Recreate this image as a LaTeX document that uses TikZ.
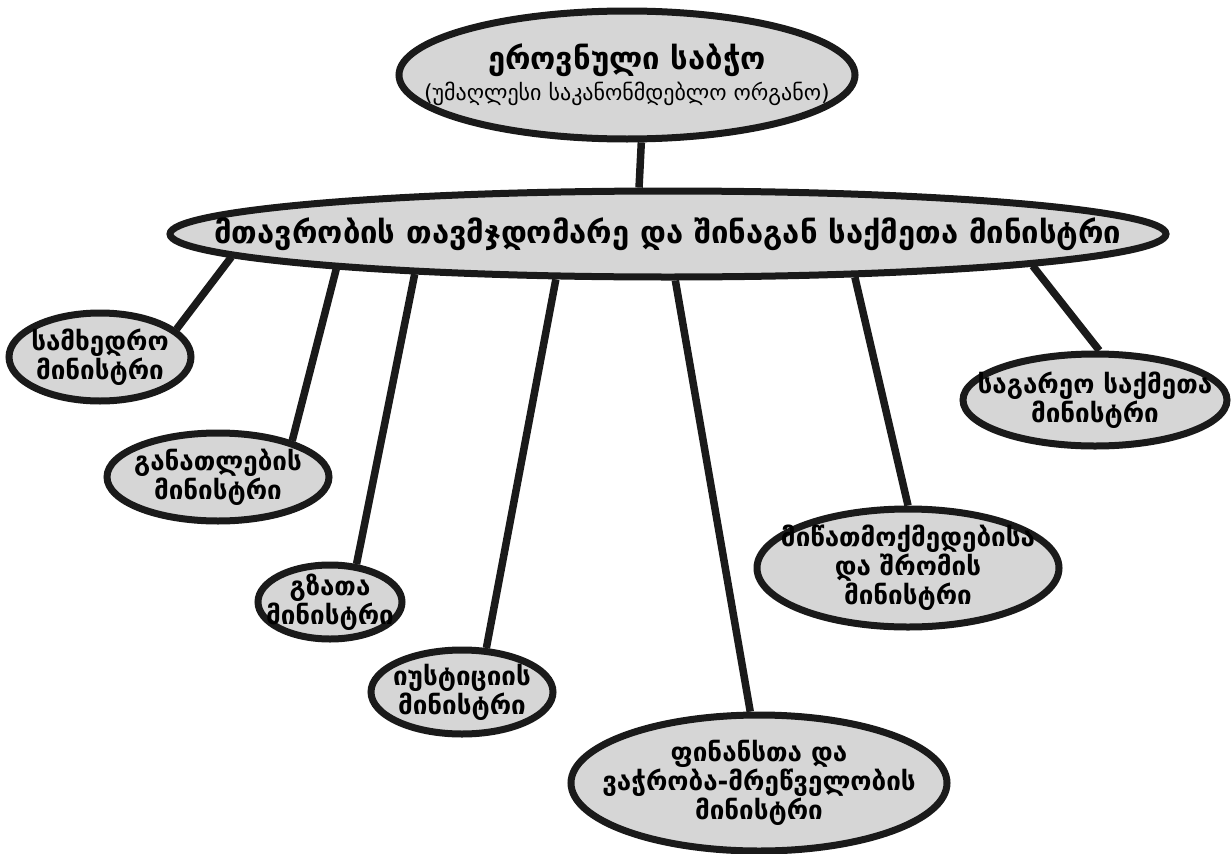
\documentclass[tikz,border=0pt]{standalone}
\usepackage{fontspec}
\setmainfont{DejaVu Sans}
\usepackage{xcolor}
\usepackage{tikz}
\usetikzlibrary{shapes.geometric}
\definecolor{ovalgray}{HTML}{D6D6D6}
\definecolor{inkblack}{HTML}{1A1A1A}

\begin{document}
\begin{tikzpicture}[x=1pt,y=-1pt,
	oval/.style={ellipse,draw=inkblack,line width=7pt,fill=ovalgray,inner xsep=-45pt,inner ysep=-8pt,
		align=center,font=\bfseries\fontsize{26}{29}\selectfont},
	link/.style={draw=inkblack,line width=7.5pt}]
	\useasboundingbox (0,0) rectangle (1232,854);
	\node[oval,minimum width=456,minimum height=128] (council) at (627,75)
		{{\fontsize{31}{34}\selectfont ეროვნული საბჭო}\\[2pt]{\mdseries\fontsize{22}{24}\selectfont (უმაღლესი საკანონმდებლო ორგანო)}};
	\node[oval,minimum width=996,minimum height=86,inner xsep=-110pt,
		font=\bfseries\fontsize{31}{34}\selectfont] (premier) at (668,234)
		{მთავრობის თავმჯდომარე და შინაგან საქმეთა მინისტრი};
	\node[oval,minimum width=182,minimum height=88] (military) at (100,357) {სამხედრო\\მინისტრი};
	\node[oval,minimum width=222,minimum height=88] (education) at (218,477) {განათლების\\მინისტრი};
	\node[oval,minimum width=144,minimum height=74] (roads) at (330,602) {გზათა\\მინისტრი};
	\node[oval,minimum width=182,minimum height=84] (justice) at (462,692) {იუსტიციის\\მინისტრი};
	\node[oval,minimum width=376,minimum height=136] (finance) at (759,783)
		{ფინანსთა და\\ვაჭრობა-მრეწველობის\\მინისტრი};
	\node[oval,minimum width=302,minimum height=118,inner ysep=-15pt] (agriculture) at (908,568)
		{მიწათმოქმედებისა\\და შრომის\\მინისტრი};
	\node[oval,minimum width=264,minimum height=92] (foreign) at (1095,400)
		{საგარეო საქმეთა\\მინისტრი};
	% connectors
	\draw[link] (council.282) -- (premier.122.5);
	\draw[link] (premier.183.7) -- (military.20);
	\draw[link] (premier.186.4) -- (education.26);
	\draw[link] (premier.189.3) -- (roads.55);
	\draw[link] (premier.202.1) -- (justice.61);
	\draw[link] (premier.279) -- (finance.97);
	\draw[link] (premier.347.7) -- (agriculture.90);
	\draw[link] (premier.355.6) -- (foreign.85);
\end{tikzpicture}
\end{document}
